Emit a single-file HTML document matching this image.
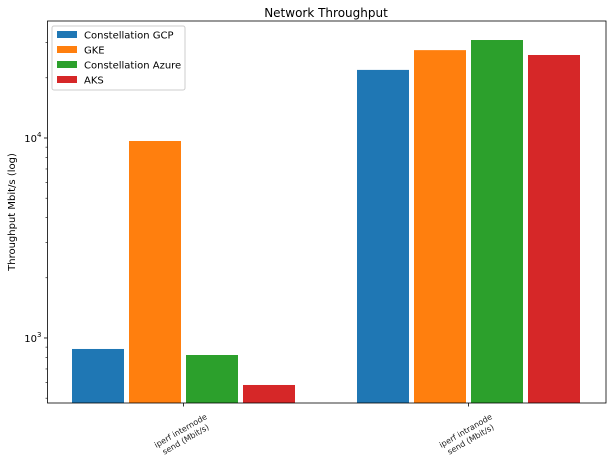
<!DOCTYPE html>
<html><head><meta charset="utf-8"><style>
body{margin:0;background:#fff;font-family:"Liberation Sans","DejaVu Sans",sans-serif}
</style></head><body>
<svg id="chart" width="612" height="465" xmlns="http://www.w3.org/2000/svg" style="font-family:'DejaVu Sans','Liberation Sans',sans-serif">
<text x="326" y="17" font-size="12" text-anchor="middle">Network Throughput</text>
<text transform="translate(15,212) rotate(-90)" font-size="10" text-anchor="middle">Throughput Mbit/s (log)</text>
<g id="bars"></g>
<g id="axes"></g>
<g>
<rect x="52" y="26" width="133" height="64" fill="#fff" stroke="#ccc" rx="2"/>
<rect x="57" y="31" width="20" height="7" fill="#1f77b4"/><text x="84" y="38.5" font-size="10">Constellation GCP</text>
<rect x="57" y="46" width="20" height="7" fill="#ff7f0e"/><text x="84" y="53.5" font-size="10">GKE</text>
<rect x="57" y="61" width="20" height="7" fill="#2ca02c"/><text x="84" y="68.5" font-size="10">Constellation Azure</text>
<rect x="57" y="76" width="20" height="7" fill="#d62728"/><text x="84" y="83.5" font-size="10">AKS</text>
</g>
</svg>
<script>
const categories=["iperf internode\nsend (Mbit/s)","iperf intranode\nsend (Mbit/s)"];
const seriesNames=["Constellation GCP","GKE","Constellation Azure","AKS"];
const gcp=[881,21900];
const gke=[9660,27500];
const azure=[822,30900];
const aks=[582,26000];
const colors=["#1f77b4","#ff7f0e","#2ca02c","#d62728"];
const series=[gcp,gke,azure,aks];
const L=47.5,R=606,T=21,B=403;
const yMin=473,yMax=38460;
function y(v){return B-(Math.log10(v)-Math.log10(yMin))/(Math.log10(yMax)-Math.log10(yMin))*(B-T);}
const gc=[183.5,468.5];
function xc(i){return gc[0]+i*(gc[1]-gc[0]);}
const NS="http://www.w3.org/2000/svg";
const bars=document.getElementById('bars'),axes=document.getElementById('axes');
function mk(p,tag,at){const e=document.createElementNS(NS,tag);for(const k in at)e.setAttribute(k,at[k]);p.appendChild(e);return e;}
const bw=52,step=57;
series.forEach((s,si)=>{s.forEach((v,ci)=>{
 const x0=xc(ci)-2*step+si*step+2.5;
 const r=mk(bars,'rect',{x:x0,y:y(v),width:bw,height:B-y(v),fill:colors[si]});
 
 
});});
mk(axes,'rect',{x:L,y:T,width:R-L,height:B-T,fill:'none',stroke:'#000','stroke-width':0.8});
[1000,10000].forEach(v=>{
 mk(axes,'line',{x1:L-3.5,x2:L,y1:y(v),y2:y(v),stroke:'#000','stroke-width':0.8});
 const t=mk(axes,'text',{x:L-6,y:y(v)+4,'font-size':10,'text-anchor':'end'});
 
 
 t.innerHTML='10<tspan dy="-5" font-size="7">'+Math.log10(v)+'</tspan>';
});
for(let d=100;d<=10000;d*=10)for(let m=2;m<=9;m++){const v=d*m;if(v>yMin&&v<yMax)mk(axes,'line',{x1:L-2,x2:L,y1:y(v),y2:y(v),stroke:'#000','stroke-width':0.6});}
categories.forEach((c,i)=>{
 const x=xc(i);
 mk(axes,'line',{x1:x,x2:x,y1:B,y2:B+3.5,stroke:'#000','stroke-width':0.8});
 const lines=c.split('\n');
 const t=mk(axes,'text',{'font-size':8,'text-anchor':'middle',transform:`translate(${x-1},${B+31}) rotate(-30)`,fill:'#222'});
 
 
 lines.forEach((l,j)=>{const ts=mk(t,'tspan',{x:0,y:j==0?-1:9});ts.textContent=l;});
});
</script>
</body></html>
